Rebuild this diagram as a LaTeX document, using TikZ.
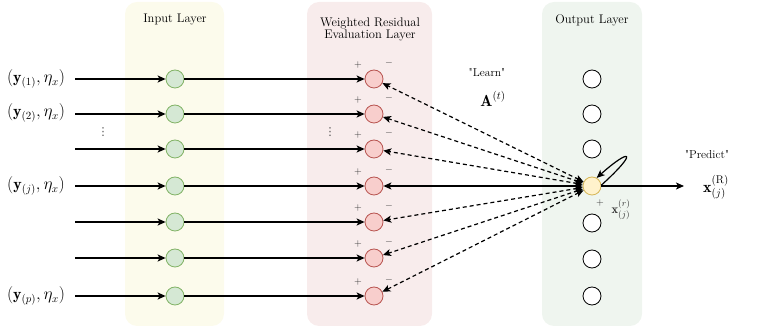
\documentclass[tikz,border=0pt]{standalone}
\usepackage{fontspec}
\newfontfamily\dejavu{DejaVu Sans}
\usetikzlibrary{arrows.meta}
\definecolor{inpanel}{HTML}{FCFBEC}
\definecolor{wpanel}{HTML}{F8ECEC}
\definecolor{opanel}{HTML}{EFF5EF}
\definecolor{gfill}{HTML}{D5E8D4}
\definecolor{gdraw}{HTML}{82B366}
\definecolor{rfill}{HTML}{F8CECC}
\definecolor{rdraw}{HTML}{B85450}
\definecolor{yfill}{HTML}{FFF2CC}
\definecolor{ydraw}{HTML}{D6B656}
\begin{document}
\begin{tikzpicture}[x=1pt,y=-1pt,
  panel/.style={rounded corners=12pt,draw=none},
  neuron/.style={circle,minimum size=18pt,inner sep=0pt,line width=0.8pt},
  innode/.style={neuron,fill=gfill,draw=gdraw},
  resnode/.style={neuron,fill=rfill,draw=rdraw},
  outnode/.style={neuron,fill=white,draw=black},
  prednode/.style={neuron,fill=yfill,draw=ydraw},
  title/.style={font=\fontsize{12.5}{14}\selectfont,align=center},
  lbl/.style={font=\fontsize{16}{18}\selectfont},
  sign/.style={font=\fontsize{10}{10}\selectfont,text=black!80},
  vdot/.style={font=\dejavu\fontsize{11}{11}\selectfont,text=black!70},
  arr/.style={line width=1.2pt,-{Stealth[length=8pt,width=7pt,inset=2pt]}},
  darr/.style={line width=1.2pt,dash pattern=on 4pt off 3pt,{Stealth[length=8pt,width=7pt,inset=2pt]}-{Stealth[length=8pt,width=7pt,inset=2pt]}},
  sarr/.style={line width=1.2pt,{Stealth[length=8pt,width=7pt,inset=2pt]}-{Stealth[length=8pt,width=7pt,inset=2pt]}}
]
\useasboundingbox (0,0) rectangle (761,328);
\fill[panel,inpanel] (125,2) rectangle (224,326);
\fill[panel,wpanel] (307,2) rectangle (432,326);
\fill[panel,opanel] (542,2) rectangle (642,326);
\node[title] (tin) at (175,20) {Input Layer};
\node[title] (tw) at (370,29) {Weighted Residual\\[-2pt]Evaluation Layer};
\node[title] (tout) at (592,20) {Output Layer};
% rows
\foreach \i/\y in {1/79,2/114,3/149,4/186,5/222,6/258,7/296}{
  \node[innode] (I\i) at (175,\y) {};
  \node[resnode] (R\i) at (374,\y) {};
  \coordinate (S\i) at (75,\y);
  \node[sign] (P\i) at (358,\y-14) {$+$};
  \node[sign] (M\i) at (389,\y-16) {$-$};
  \draw[arr] (S\i) -- (I\i);
  \draw[arr] (I\i) -- (R\i);
}
\foreach \i/\y in {1/79,2/114,3/149,5/223,6/259,7/296}{
  \node[outnode] (O\i) at (592,\y) {};
}
\node[prednode] (Y) at (592,186) {};
\node[lbl] (L1) at (36,79) {$(\mathbf{y}_{(1)},\eta_x)$};
\node[lbl] (L2) at (36,113) {$(\mathbf{y}_{(2)},\eta_x)$};
\node[lbl] (L4) at (36,186) {$(\mathbf{y}_{(j)},\eta_x)$};
\node[lbl] (L7) at (36,296) {$(\mathbf{y}_{(p)},\eta_x)$};
\node[vdot] (d1) at (103,132) {⋮};
\node[vdot] (d2) at (330,132) {⋮};
% learn connections
\foreach \i in {1,2,3,5,6,7}{
  \draw[darr] (Y) -- (R\i);
}
\draw[sarr] (Y) -- (R4);
\draw[line width=1.2pt,-{Stealth[length=8pt,width=7pt,inset=2pt]}] (Y.5) .. controls (640,150) and (630,148) .. (Y.60);
\coordinate (XR) at (684,186);
\draw[arr] (Y) -- (XR);
\node[font=\fontsize{11.5}{13}\selectfont] (learn) at (487,73) {\textquotedbl Learn\textquotedbl};
\node[lbl] (A) at (493,99) {$\mathbf{A}^{(t)}$};
\node[font=\fontsize{11.5}{13}\selectfont] (pred) at (707,155) {\textquotedbl Predict\textquotedbl};
\node[lbl] (xR) at (716,187) {$\mathbf{x}^{(\mathrm{R})}_{(j)}$};
\node[sign] (pl) at (600,203) {$+$};
\node[font=\fontsize{12.5}{13}\selectfont,text=black!80] (xr) at (621,210) {$\mathbf{x}^{(r)}_{(j)}$};
\end{tikzpicture}
\end{document}
